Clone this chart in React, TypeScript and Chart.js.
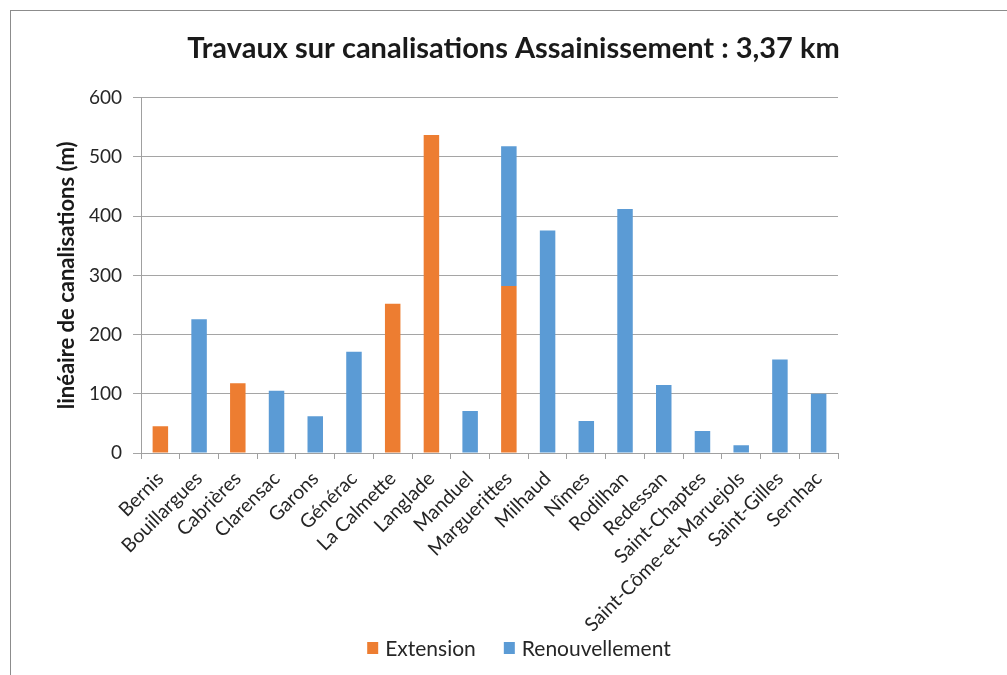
import React, { useEffect, useRef } from "react";
import { Chart, registerables } from "chart.js";

Chart.register(...registerables);

const categories = [
  "Bernis", "Bouillargues", "Cabrières", "Clarensac", "Garons", "Générac",
  "La Calmette", "Langlade", "Manduel", "Marguerittes", "Milhaud", "Nîmes",
  "Rodilhan", "Redessan", "Saint-Chaptes", "Saint-Côme-et-Maruejols",
  "Saint-Gilles", "Sernhac",
];
const extension = [45, 0, 118, 0, 0, 0, 252, 537, 0, 282, 0, 0, 0, 0, 0, 0, 0, 0];
const renouvellement = [0, 226, 0, 105, 62, 171, 0, 0, 71, 236, 376, 54, 412, 115, 37, 13, 158, 100];
const yTicks = [0, 100, 200, 300, 400, 500, 600];

const titleText = "Travaux sur canalisations Assainissement : 3,37 km";
const yTitle = "linéaire de canalisations (m)";

const FONT = "Lato, 'Open Sans', sans-serif";

const bottomLegend = {
  id: "bottomLegend",
  afterDraw(chart: any) {
    const ctx = chart.ctx;
    const ds = chart.data.datasets;
    const font = `21px ${FONT}`;
    const box = 11;
    const boxH = 12;
    const gapText = 7;
    const gapItem = 28;
    const centerX = 519;
    const centerY = 648;
    ctx.save();
    ctx.font = font;
    const widths = ds.map((d: any) => ctx.measureText(d.label).width);
    let total = 0;
    widths.forEach((w: number, i: number) => {
      total += box + gapText + w + (i < widths.length - 1 ? gapItem : 0);
    });
    let x = centerX - total / 2;
    ctx.textBaseline = "middle";
    ctx.textAlign = "left";
    ds.forEach((d: any, i: number) => {
      ctx.fillStyle = d.backgroundColor;
      ctx.fillRect(x, centerY - boxH / 2, box, boxH);
      x += box + gapText;
      ctx.fillStyle = "#262626";
      ctx.fillText(d.label, x, centerY + 1);
      x += widths[i] + gapItem;
    });
    ctx.restore();
  },
};

export default function App() {
  const ref = useRef<HTMLCanvasElement | null>(null);
  useEffect(() => {
    if (!ref.current) return;
    const chart = new Chart(ref.current, {
      type: "bar",
      data: {
        labels: categories,
        datasets: [
          { label: "Extension", data: extension, backgroundColor: "#ED7D31", stack: "s" },
          { label: "Renouvellement", data: renouvellement, backgroundColor: "#5B9BD5", stack: "s" },
        ],
      },
      plugins: [bottomLegend],
      options: {
        animation: false,
        responsive: false,
        maintainAspectRatio: false,
        layout: { padding: { left: 20, right: 0, top: 0, bottom: 12 } },
        datasets: { bar: { barPercentage: 1, categoryPercentage: 0.4 } },
        plugins: {
          title: {
            display: true,
            text: titleText,
            color: "#1a1a1a",
            font: { family: FONT, size: 29, weight: "bold", lineHeight: 1.2 },
            padding: { top: 31, bottom: 32 },
          },
          legend: { display: false },
          tooltip: { enabled: false },
        },
        scales: {
          x: {
            stacked: true,
            grid: { display: true, drawOnChartArea: false, drawTicks: true, tickLength: 6, offset: true, color: "#a0a0a0" },
            border: { display: true, color: "#a0a0a0" },
            ticks: {
              autoSkip: false,
              minRotation: 45,
              maxRotation: 45,
              color: "#262626",
              padding: 8,
              font: { family: FONT, size: 19.5 },
            },
            afterFit: (s: any) => { s.height = 210; },
          },
          y: {
            stacked: true,
            min: 0,
            max: 600,
            ticks: {
              stepSize: 100,
              color: "#262626",
              padding: 11,
              font: { family: FONT, size: 19 },
              callback: (v: any) => (yTicks.includes(Number(v)) ? String(v) : ""),
            },
            grid: { color: "#a5a5a5", lineWidth: 1, drawTicks: true, tickLength: 8 },
            border: { display: true, color: "#a0a0a0" },
            title: {
              display: true,
              text: yTitle,
              color: "#1a1a1a",
              font: { family: FONT, size: 22, weight: "bold", lineHeight: 1.2 },
              padding: { top: 34, bottom: 0 },
            },
            afterFit: (s: any) => { s.width = 121; },
          },
          y2: {
            position: "right",
            display: true,
            grid: { display: false, drawTicks: false },
            border: { display: false },
            ticks: { display: false },
            afterFit: (s: any) => { s.width = 169; },
          },
        },
      },
    });
    return () => chart.destroy();
  }, []);

  return (
    <div style={{ position: "absolute", left: 0, top: 0, width: 1007, height: 675, overflow: "hidden", background: "#fff" }}>
      <div style={{ position: "absolute", left: 10, top: 10, width: 1100, height: 800, border: "1px solid #8c8c8c", boxSizing: "border-box" }} />
      <canvas ref={ref} width={1007} height={675} style={{ position: "absolute", left: 0, top: 0, width: 1007, height: 675 }} />
    </div>
  );
}
